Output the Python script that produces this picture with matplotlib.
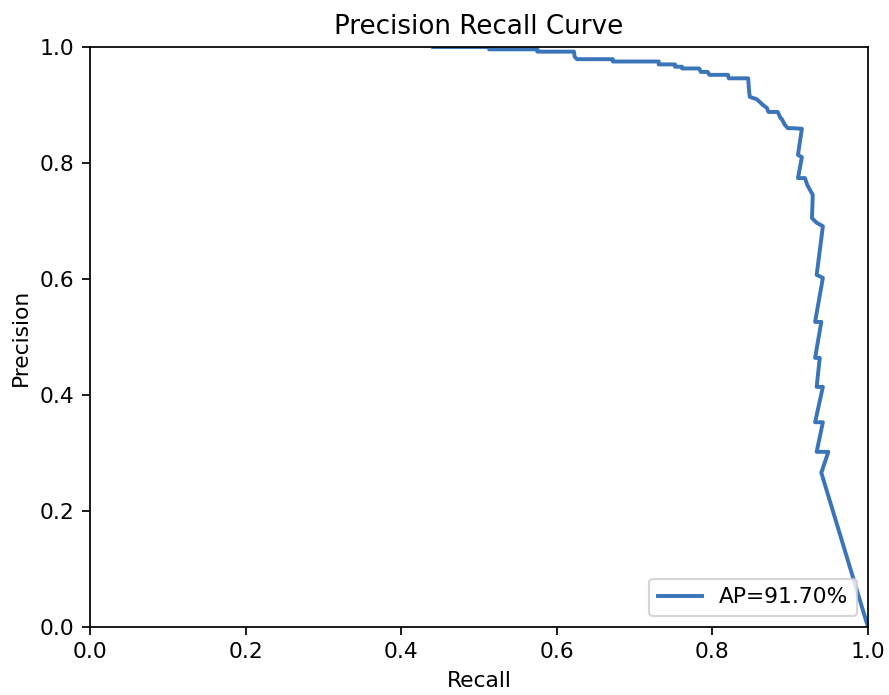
import matplotlib
matplotlib.use("Agg")
import matplotlib.pyplot as plt

# points, in plotting order
recall = [0.441, 0.513, 0.513, 0.575, 0.575, 0.622, 0.623, 0.626, 0.672, 0.672,
          0.731, 0.731, 0.752, 0.752, 0.761, 0.761, 0.783, 0.785, 0.794, 0.796,
          0.820, 0.821, 0.846, 0.847, 0.848, 0.857, 0.861, 0.865, 0.870, 0.872,
          0.884, 0.887, 0.890, 0.893, 0.897, 0.904, 0.915, 0.910, 0.915, 0.910,
          0.919, 0.922, 0.929, 0.928, 0.934, 0.942, 0.934, 0.942, 0.932, 0.940,
          0.932, 0.938, 0.934, 0.942, 0.932, 0.942, 0.934, 0.949, 0.940, 1.000]
precision = [1.000, 1.000, 0.996, 0.996, 0.992, 0.992, 0.983, 0.979, 0.979, 0.975,
             0.975, 0.970, 0.970, 0.966, 0.966, 0.963, 0.963, 0.957, 0.957, 0.952,
             0.952, 0.946, 0.946, 0.926, 0.914, 0.910, 0.905, 0.900, 0.895, 0.888,
             0.888, 0.879, 0.874, 0.866, 0.860, 0.860, 0.859, 0.814, 0.810, 0.774,
             0.774, 0.762, 0.745, 0.705, 0.697, 0.691, 0.607, 0.602, 0.526, 0.526,
             0.464, 0.464, 0.414, 0.414, 0.353, 0.353, 0.302, 0.302, 0.266, 0.000]
ap = 91.70

DPI = 157
fig = plt.figure(figsize=(889 / DPI, 695 / DPI), dpi=DPI)
ax = fig.add_axes([90 / 889, 68 / 695, 778 / 889, 580 / 695])

ax.plot(recall, precision, color="#3a75b9", linewidth=1.8, label=f"AP={ap:.2f}%")
ax.set_xlim(0, 1)
ax.set_ylim(0, 1)
ax.set_xlabel("Recall")
ax.set_ylabel("Precision")
ax.set_title("Precision Recall Curve")
ax.legend(loc="lower right")

fig.savefig("out.png", dpi=DPI)
